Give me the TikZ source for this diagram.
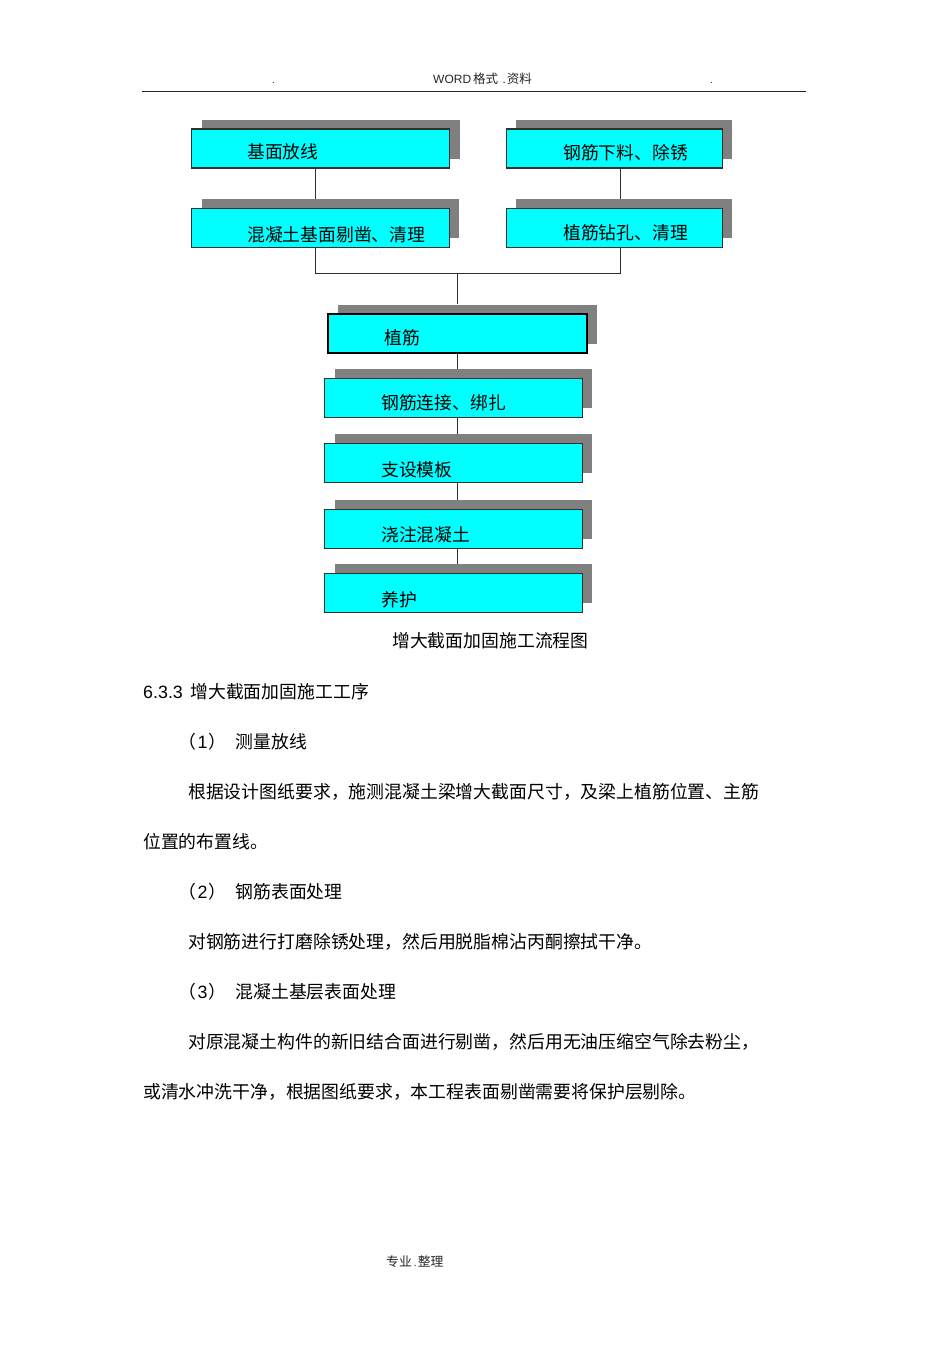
\documentclass[tikz,border=0pt]{standalone}
\usepackage{fontspec}
\setmainfont{Liberation Sans}
\newfontfamily\cjk{Noto Sans CJK SC}
\newfontfamily\lat{Liberation Sans}
\usetikzlibrary{shadows}
\definecolor{boxcyan}{HTML}{00FFFF}
\definecolor{shgray}{HTML}{808080}
\definecolor{edge}{HTML}{303030}
\begin{document}
\begin{tikzpicture}[x=1pt,y=-1pt,
  flowbox/.style={draw=edge, line width=1.2pt, fill=boxcyan, anchor=north west,
    inner sep=0pt, minimum height=39pt,
    general shadow={fill=shgray, shadow xshift=10pt, shadow yshift=9pt}},
  boxtext/.style={anchor=base west, inner sep=0pt, font=\cjk\fontsize{17.8}{20}\selectfont},
  bodytext/.style={anchor=base west, inner sep=0pt, font=\cjk\fontsize{17.85}{20}\selectfont},
  smalltext/.style={anchor=base west, inner sep=0pt, text=black!85},
  link/.style={draw=edge, line width=1pt}]
\fill[white] (0,0) rectangle (950,1345);
\useasboundingbox (0,0) rectangle (950,1345);

% header
\node[smalltext] (dotl) at (272,83) {\lat\fontsize{10}{12}\selectfont .};
\node[smalltext] (dotr) at (710,83) {\lat\fontsize{10}{12}\selectfont .};
\node[smalltext] (hdr) at (433,83) {{\lat\fontsize{12}{14}\selectfont WORD}\hspace{2pt}{\cjk\fontsize{12.5}{14}\selectfont 格式}\hspace{4.5pt}{\lat\fontsize{12}{14}\selectfont .}\hspace{0.8pt}{\cjk\fontsize{12.5}{14}\selectfont 资料}};
\draw[line width=1pt, black!85] (142,91.7) -- (806,91.7);

% junction coordinates
\coordinate (jl) at (315.7,273);
\coordinate (jr) at (620,273);
\coordinate (jm) at (457.7,273);

% boxes
\node[flowbox, minimum width=258pt] (A) at (191,128.3) {};
\node[flowbox, minimum width=257.5pt] (B) at (191,207.7) {};
\node[flowbox, minimum width=216pt] (C) at (505.5,128.3) {};
\node[flowbox, minimum width=216pt] (D) at (505.5,207.7) {};
\node[flowbox, minimum width=259pt, draw=black, line width=2pt] (E) at (327,312.5) {};
\node[flowbox, minimum width=257.5pt] (F) at (324,377.5) {};
\node[flowbox, minimum width=257.5pt] (G) at (324,442.7) {};
\node[flowbox, minimum width=257.5pt] (H) at (324,508.5) {};
\node[flowbox, minimum width=257.5pt] (I) at (324,572.7) {};

% connectors (they stop at the shadow of the next box)
\draw[link] (A.south -| jl) -- ([yshift=9pt]B.north -| jl);
\draw[link] (C.south -| jr) -- ([yshift=9pt]D.north -| jr);
\draw[link] (B.south -| jl) -- (jl) -- (jr) -- (D.south -| jr);
\draw[link] (jm) -- ([yshift=9pt]E.north -| jm);
\draw[link] (E.south -| jm) -- ([yshift=9pt]F.north -| jm);
\draw[link] (F.south -| jm) -- ([yshift=9pt]G.north -| jm);
\draw[link] (G.south -| jm) -- ([yshift=9pt]H.north -| jm);
\draw[link] (H.south -| jm) -- ([yshift=9pt]I.north -| jm);

% box texts
\node[boxtext] (At) at (247,158) {基面放线};
\node[boxtext] (Bt) at (247,241) {混凝土基面剔凿、清理};
\node[boxtext] (Ct) at (563,159) {钢筋下料、除锈};
\node[boxtext] (Dt) at (563,239.5) {植筋钻孔、清理};
\node[boxtext] (Et) at (384,344) {植筋};
\node[boxtext] (Ft) at (381,409) {钢筋连接、绑扎};
\node[boxtext] (Gt) at (381,476) {支设模板};
\node[boxtext] (Ht) at (381,541) {浇注混凝土};
\node[boxtext] (It) at (381,606) {养护};

% caption
\node[bodytext] (cap) at (392,647.5) {增大截面加固施工流程图};

% body text
\node[bodytext] (h1) at (143,698) {{\lat 6.3.3}\hspace{7.5pt}增大截面加固施工工序};
\node[bodytext] (s1) at (178,748) {（\hspace{1.5pt}{\lat 1}\hspace{1.5pt}）\hspace{8.7pt}测量放线};
\node[bodytext] (p1) at (188,798.5) {根据设计图纸要求，施测混凝土梁增大截面尺寸，及梁上植筋位置、主筋};
\node[bodytext] (p2) at (143,848) {位置的布置线。};
\node[bodytext] (s2) at (178,898) {（\hspace{1.5pt}{\lat 2}\hspace{1.5pt}）\hspace{8.7pt}钢筋表面处理};
\node[bodytext] (p3) at (188,948) {对钢筋进行打磨除锈处理，然后用脱脂棉沾丙酮擦拭干净。};
\node[bodytext] (s3) at (178,998) {（\hspace{1.5pt}{\lat 3}\hspace{1.5pt}）\hspace{8.7pt}混凝土基层表面处理};
\node[bodytext] (p4) at (188,1048) {对原混凝土构件的新旧结合面进行剔凿，然后用无油压缩空气除去粉尘，};
\node[bodytext] (p5) at (143,1098) {或清水冲洗干净，根据图纸要求，本工程表面剔凿需要将保护层剔除。};

% footer
\node[smalltext] (ftr) at (386,1266) {{\cjk\fontsize{12.8}{14}\selectfont 专业}\hspace{2pt}{\lat\fontsize{10.5}{12}\selectfont .}\hspace{1.2pt}{\cjk\fontsize{12.8}{14}\selectfont 整理}};
\end{tikzpicture}
\end{document}
